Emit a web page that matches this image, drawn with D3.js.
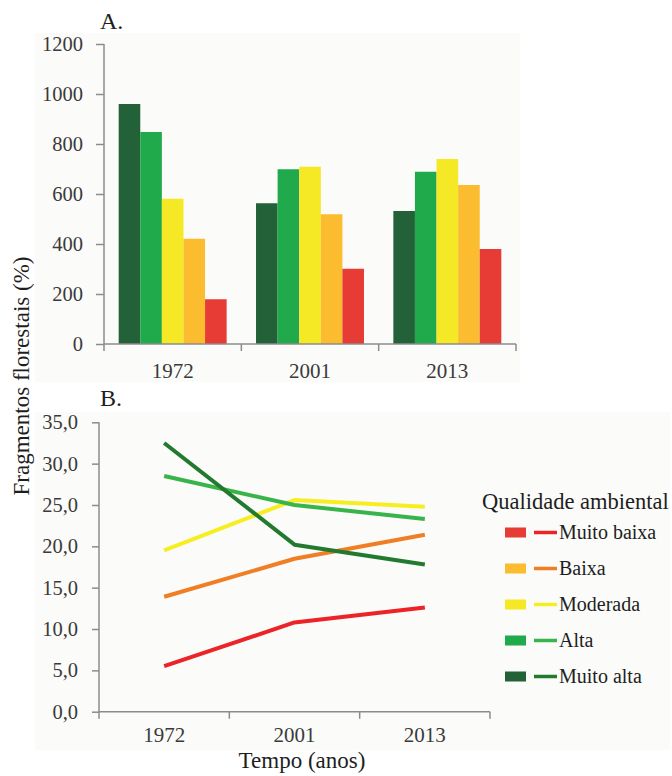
<!DOCTYPE html>
<html>
<head>
<meta charset="utf-8">
<script src="https://cdn.jsdelivr.net/npm/d3@7"></script>
<style>
  html, body { margin: 0; padding: 0; background: #ffffff; }
  svg text { font-family: "Liberation Serif", "DejaVu Serif", serif; }
</style>
</head>
<body>
<svg id="chart" width="672" height="776"></svg>
<script>
// Years and environmental-quality classes
const years = ["1972", "2001", "2013"];
const classes = ["Muito alta", "Alta", "Moderada", "Baixa", "Muito baixa"];
const legendOrder = ["Muito baixa", "Baixa", "Moderada", "Alta", "Muito alta"];

// Panel A: number of forest fragments per class
const countMuitoAlta  = [960, 563, 532];
const countAlta       = [848, 699, 689];
const countModerada   = [581, 709, 740];
const countBaixa      = [421, 519, 636];
const countMuitoBaixa = [179, 301, 380];

// Panel B: share of forest fragments per class (%)
const pctMuitoAlta  = [32.5, 20.2, 17.8];
const pctAlta       = [28.5, 25.0, 23.3];
const pctModerada   = [19.5, 25.6, 24.8];
const pctBaixa      = [13.9, 18.5, 21.4];
const pctMuitoBaixa = [5.5, 10.8, 12.6];

const ticksA = [0, 200, 400, 600, 800, 1000, 1200];
const ticksB = [0, 5, 10, 15, 20, 25, 30, 35];

const counts = {
  "Muito alta": countMuitoAlta, "Alta": countAlta, "Moderada": countModerada,
  "Baixa": countBaixa, "Muito baixa": countMuitoBaixa
};
const pcts = {
  "Muito alta": pctMuitoAlta, "Alta": pctAlta, "Moderada": pctModerada,
  "Baixa": pctBaixa, "Muito baixa": pctMuitoBaixa
};

const barColor = {
  "Muito alta": "#236238", "Alta": "#20aa4b", "Moderada": "#f5e824",
  "Baixa": "#fbbc2f", "Muito baixa": "#e73c35"
};
const lineColor = {
  "Muito alta": "#217a2e", "Alta": "#39b44b", "Moderada": "#f7ee22",
  "Baixa": "#f07e24", "Muito baixa": "#ec2327"
};

const FONT = "Liberation Serif, DejaVu Serif, serif";
const axisColor = "#8c8c8c";
const tickText = "#3a3a3a";
const titleText = "#1e1e1e";

const svg = d3.select("#chart");

// faint plot backgrounds
svg.append("rect").attr("x", 35).attr("y", 33).attr("width", 485).attr("height", 349).attr("fill", "#fbfbf9");
svg.append("rect").attr("x", 35).attr("y", 412).attr("width", 635).attr("height", 338).attr("fill", "#fbfbf9");

function styleAxis(g) {
  g.attr("font-family", FONT);
  g.select(".domain").remove();
  g.selectAll(".tick line").attr("stroke", axisColor).attr("stroke-width", 1.5);
  g.selectAll(".tick text").attr("fill", tickText).attr("font-family", FONT);
}

function addText(x, y, size, fill, str) {
  return svg.append("text").attr("x", x).attr("y", y)
    .attr("font-family", FONT).attr("font-size", size).attr("fill", fill).text(str);
}

// ---------- Panel A: grouped bars ----------
const xA = d3.scaleBand().domain(years).range([104, 516]);
const xAInner = d3.scaleBand().domain(classes).range([0, xA.bandwidth()]).paddingOuter(0.68);
const yA = d3.scaleLinear().domain([0, 1200]).range([344, 44]);

const gA = svg.append("g");
years.forEach((yr, i) => {
  gA.selectAll(null)
    .data(classes)
    .join("rect")
    .attr("x", c => xA(yr) + xAInner(c))
    .attr("width", xAInner.bandwidth())
    .attr("y", c => yA(counts[c][i]))
    .attr("height", c => yA(0) - yA(counts[c][i]))
    .attr("fill", c => barColor[c]);
});

// y axis A
const yAxisA = svg.append("g").attr("transform", "translate(104,0)")
  .call(d3.axisLeft(yA).tickValues(ticksA).tickSize(8).tickPadding(13).tickFormat(d3.format("d")))
  .attr("font-size", 20.5);
styleAxis(yAxisA);
svg.append("line").attr("x1", 104).attr("x2", 104).attr("y1", yA(1200)).attr("y2", yA(0))
  .attr("stroke", axisColor).attr("stroke-width", 1.5);

// x axis A: line, category-boundary ticks, labels
svg.append("line").attr("x1", xA.range()[0]).attr("x2", xA.range()[1]).attr("y1", yA(0)).attr("y2", yA(0))
  .attr("stroke", axisColor).attr("stroke-width", 1.5);
svg.selectAll(null).data(years.map(d => xA(d)).concat([xA.range()[1]]))
  .join("line")
  .attr("x1", d => d).attr("x2", d => d)
  .attr("y1", yA(0)).attr("y2", yA(0) + 7)
  .attr("stroke", axisColor).attr("stroke-width", 1.5);
svg.selectAll(null).data(years).join("text")
  .attr("x", d => xA(d) + xA.bandwidth() / 2).attr("y", 378)
  .attr("text-anchor", "middle").attr("font-family", FONT).attr("font-size", 21).attr("fill", tickText)
  .text(d => d);

addText(100, 29, 24, titleText, "A.");

// ---------- Panel B: lines ----------
const xB = d3.scaleBand().domain(years).range([99, 490]);
const yB = d3.scaleLinear().domain([0, 35]).range([711.7, 422.3]);
const fmtB = d => d3.format(".1f")(d).replace(".", ",");

const yAxisB = svg.append("g").attr("transform", "translate(99,0)")
  .call(d3.axisLeft(yB).tickValues(ticksB).tickSize(7).tickPadding(14).tickFormat(fmtB))
  .attr("font-size", 20.5);
styleAxis(yAxisB);
svg.append("line").attr("x1", 99).attr("x2", 99).attr("y1", yB(35)).attr("y2", yB(0))
  .attr("stroke", axisColor).attr("stroke-width", 1.5);

svg.append("line").attr("x1", xB.range()[0]).attr("x2", xB.range()[1]).attr("y1", yB(0)).attr("y2", yB(0))
  .attr("stroke", axisColor).attr("stroke-width", 1.5);
svg.selectAll(null).data(years.map(d => xB(d)).concat([xB.range()[1]]))
  .join("line")
  .attr("x1", d => d).attr("x2", d => d)
  .attr("y1", yB(0)).attr("y2", yB(0) + 7)
  .attr("stroke", axisColor).attr("stroke-width", 1.5);
svg.selectAll(null).data(years).join("text")
  .attr("x", d => xB(d) + xB.bandwidth() / 2).attr("y", 742)
  .attr("text-anchor", "middle").attr("font-family", FONT).attr("font-size", 21).attr("fill", tickText)
  .text(d => d);

const line = d3.line()
  .x((d, i) => xB(years[i]) + xB.bandwidth() / 2)
  .y(d => yB(d));

svg.append("g").selectAll("path")
  .data(legendOrder)
  .join("path")
  .attr("d", c => line(pcts[c]))
  .attr("fill", "none")
  .attr("stroke", c => lineColor[c])
  .attr("stroke-width", 4)
  .attr("stroke-linejoin", "round");

addText(100, 406, 24, titleText, "B.");

// shared axis titles
svg.append("text")
  .attr("transform", "translate(29,376) rotate(-90)")
  .attr("text-anchor", "middle").attr("font-family", FONT).attr("font-size", 23).attr("fill", titleText)
  .text("Fragmentos florestais (%)");
addText(302, 768, 23, titleText, "Tempo (anos)").attr("text-anchor", "middle");

// legend
addText(482, 509, 22.5, titleText, "Qualidade ambiental");
const rows = svg.append("g").selectAll("g.row").data(legendOrder).join("g")
  .attr("class", "row")
  .attr("transform", (d, i) => `translate(0,${532.5 + i * 36})`);
rows.append("rect").attr("x", 505).attr("y", -5).attr("width", 21).attr("height", 10)
  .attr("fill", d => barColor[d]);
rows.append("line").attr("x1", 534).attr("x2", 557).attr("y1", 0).attr("y2", 0)
  .attr("stroke", d => lineColor[d]).attr("stroke-width", 3.5);
rows.append("text").attr("x", 559).attr("y", 6.5)
  .attr("font-family", FONT).attr("font-size", 20).attr("fill", titleText)
  .text(d => d);
</script>
</body>
</html>
